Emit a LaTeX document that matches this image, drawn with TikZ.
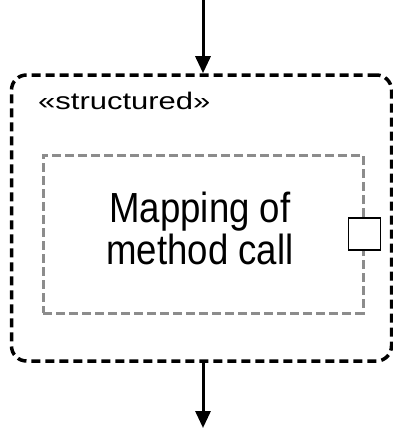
\documentclass[tikz,border=0pt]{standalone}
\usepackage{fontspec}
\setmainfont{Liberation Sans}
\usetikzlibrary{positioning, arrows.meta}
\definecolor{FrameGray}{HTML}{8C8C8C}

\begin{document}
\begin{tikzpicture}[x=1pt, y=-1pt]
                \useasboundingbox (0,0) rectangle (393,428);

                % Outer structured region
                \node[draw, line width=3.5pt, dash pattern=on 9pt off 5pt, rounded corners=15pt,
                      minimum width=380pt, minimum height=286pt, inner sep=0pt] (region) at (201.5,218) {};
                \node[font=\fontsize{24}{26}\selectfont, anchor=base west, inner sep=0pt] (stereo)
                      at (38,109) {\scalebox{1.29}[1]{«structured»}};

                % Inner action (gray dashed)
                \node[draw=FrameGray, line width=3pt, dash pattern=on 9pt off 4pt,
                      minimum width=320pt, minimum height=158pt, inner sep=0pt] (action) at (203,234) {};
                \node[font=\fontsize{36.6}{33}\selectfont, align=center, inner sep=0pt] (label)
                      at (200,234) {\scalebox{1}[1.15]{\begin{tabular}{@{}c@{}}Mapping of\\method call\end{tabular}}};

                % Port on the right edge
                \node[draw, fill=white, line width=1.8pt, minimum width=32pt, minimum height=32pt,
                      inner sep=0pt] (port) at (action.east) {};

                % Flow in and out
                \coordinate (src) at (203,0);
                \coordinate (dst) at (203,428);
                \draw[line width=3pt, -{Triangle[length=17pt, width=15pt]}] (src) -- (src |- region.north);
                \draw[line width=3pt, -{Triangle[length=17pt, width=15pt]}] (dst |- region.south) -- (dst);
            \end{tikzpicture}
\end{document}
